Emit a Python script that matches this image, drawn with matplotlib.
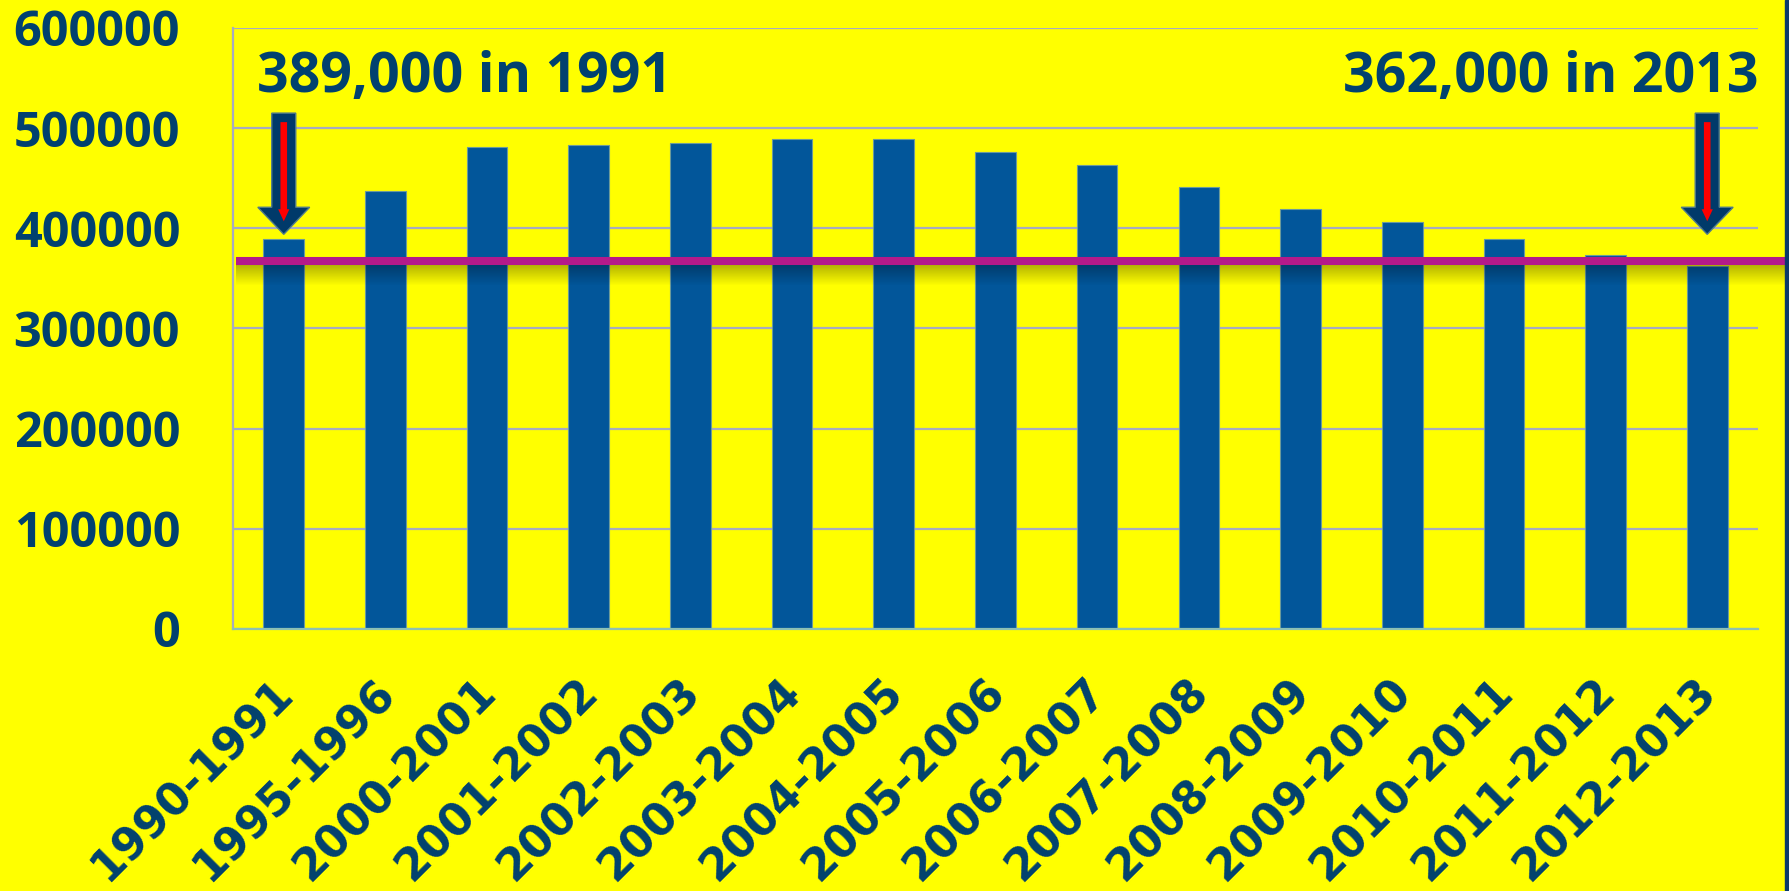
import matplotlib.pyplot as plt
import numpy as np
from matplotlib import transforms
from matplotlib.patches import FancyArrow, Rectangle

# data
years = ["1990-1991", "1995-1996", "2000-2001", "2001-2002", "2002-2003",
         "2003-2004", "2004-2005", "2005-2006", "2006-2007", "2007-2008",
         "2008-2009", "2009-2010", "2010-2011", "2011-2012", "2012-2013"]
values = [389000, 437000, 481000, 483000, 485000, 489000, 489000, 476000,
          463000, 441000, 419000, 406000, 389000, 373000, 362000]
y_ticks = [0, 100000, 200000, 300000, 400000, 500000, 600000]
ref_level = 367000
note_left = "389,000 in 1991"
note_right = "362,000 in 2013"

navy = "#01416F"
bar_blue = "#02569A"
yellow = "#FFFF00"
grid_col = "#A7ABC0"

plt.rcParams["font.family"] = ["Open Sans", "DejaVu Sans"]
plt.rcParams["font.weight"] = "bold"

fig = plt.figure(figsize=(17.89, 8.91), dpi=100, facecolor=yellow)
ax = fig.add_axes([0.1302, 0.2941, 0.8525, 0.6745])
ax.set_facecolor(yellow)

x = np.arange(len(years))
ax.bar(x, values, width=0.4, color=bar_blue, edgecolor="#6C9A9A",
       linewidth=0.8, zorder=2)

# axes, grid and ticks
ax.set_yticks(y_ticks)
ax.set_yticklabels([str(v) for v in y_ticks])
ax.set_xticks(x)
ax.set_xticklabels(years, rotation=45, ha="right", family="DejaVu Sans")
ax.yaxis.grid(True, color=grid_col, linewidth=1.6)
ax.set_axisbelow(True)
ax.tick_params(axis="y", length=0, labelsize=35, labelcolor=navy, pad=38)
ax.tick_params(axis="x", length=0, labelsize=32, labelcolor=navy, pad=30)
shift = transforms.ScaledTranslation(18 / 100, 0, fig.dpi_scale_trans)
for lbl in ax.get_xticklabels():
    lbl.set_transform(lbl.get_transform() + shift)

for s in ["top", "right"]:
    ax.spines[s].set_visible(False)
ax.spines["left"].set_color(grid_col)
ax.spines["left"].set_linewidth(1.6)
ax.spines["bottom"].set_color("#8CC0B4")
ax.spines["bottom"].set_linewidth(1.6)

# reference line with a soft shadow underneath
blend = transforms.blended_transform_factory(ax.transAxes, ax.transData)
shade = np.zeros((40, 2, 4))
shade[..., 3] = np.linspace(0.32, 0.0, 40)[:, None]
ax.imshow(shade, extent=(0.002, 1.018, ref_level - 25000, ref_level - 3000),
          transform=blend, aspect="auto", clip_on=False, zorder=3,
          interpolation="bilinear")
ax.plot([0.002, 1.018], [ref_level, ref_level], transform=blend,
        color="#B41A8A", linewidth=5.8, solid_capstyle="butt",
        clip_on=False, zorder=4)

# block arrows over the first and last bar
arrow_top, arrow_tip = 515000, 394000
for i in [0, len(years) - 1]:
    ax.add_patch(FancyArrow(i, arrow_top, 0, arrow_tip - arrow_top,
                            width=0.236, head_width=0.51, head_length=27000,
                            length_includes_head=True, facecolor="#003A6A",
                            edgecolor="#4F7A8A", linewidth=1, zorder=5))
    ax.add_patch(FancyArrow(i, arrow_top - 9000, 0, arrow_tip - arrow_top + 22000,
                            width=0.065, head_width=0.11, head_length=12000,
                            length_includes_head=True, facecolor="#FF0000",
                            edgecolor="none", zorder=6))

ax.text(0.0157, 0.8935, note_left, transform=ax.transAxes, fontsize=40,
        color=navy, ha="left", va="baseline", fontweight="bold")
ax.text(1.0, 0.8935, note_right, transform=ax.transAxes, fontsize=40,
        color=navy, ha="right", va="baseline", fontweight="bold")

ax.set_xlim(-0.5, len(years) - 0.5)
ax.set_ylim(0, 600000)

# thin dark strip on the right edge
fig.patches.append(Rectangle((1785 / 1789, 0), 4 / 1789, 1,
                             transform=fig.transFigure, color="#0A3A6A"))

fig.savefig("out.png", dpi=100, facecolor=yellow)
